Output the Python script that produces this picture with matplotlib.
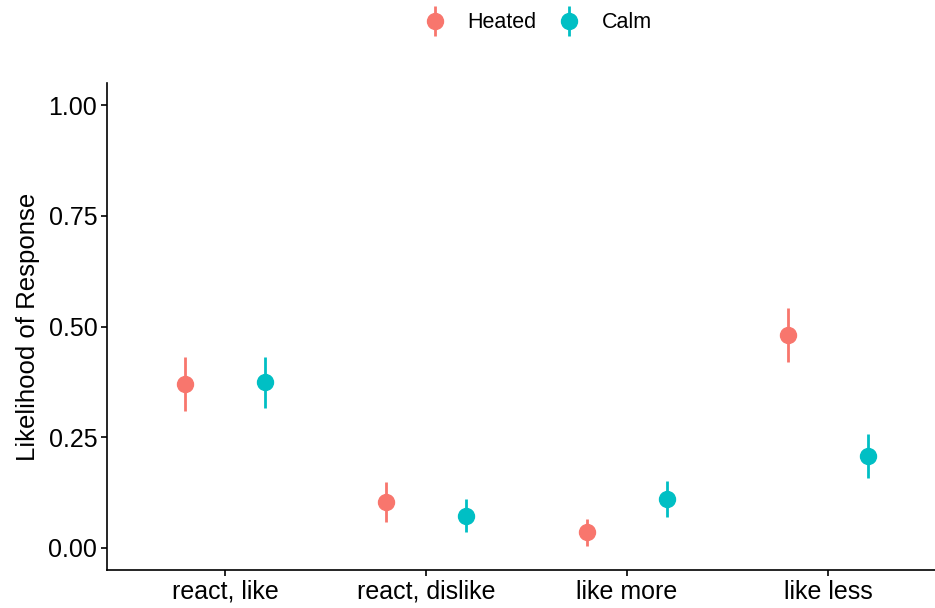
import matplotlib
matplotlib.use("Agg")
import matplotlib.pyplot as plt
from matplotlib.legend_handler import HandlerErrorbar
from matplotlib.container import ErrorbarContainer
import numpy as np

plt.rcParams['font.family'] = ['Liberation Sans', 'DejaVu Sans']

categories = ["react, like", "react, dislike", "like more", "like less"]
groups = ["Heated", "Calm"]
colors = ["#F8766D", "#00BFC4"]

heated_mean = [0.370, 0.104, 0.036, 0.481]
heated_low = [0.309, 0.059, 0.005, 0.420]
heated_high = [0.431, 0.149, 0.065, 0.542]

calm_mean = [0.375, 0.072, 0.111, 0.208]
calm_low = [0.316, 0.036, 0.070, 0.158]
calm_high = [0.431, 0.111, 0.151, 0.257]

means = [heated_mean, calm_mean]
lows = [heated_low, calm_low]
highs = [heated_high, calm_high]

fig = plt.figure(figsize=(9.35, 6.08), dpi=100)
ax = fig.add_axes([107 / 935, 1 - 570 / 608, 1 - 107 / 935, (570 - 83) / 608])

x = np.arange(1, len(categories) + 1)
offsets = [-0.2, 0.2]
for g in range(len(groups)):
    m = np.array(means[g])
    lo = m - np.array(lows[g])
    hi = np.array(highs[g]) - m
    ax.errorbar(x + offsets[g], m, yerr=[lo, hi], fmt='o', color=colors[g],
                markersize=11.5, elinewidth=2, capsize=0, label=groups[g])

ax.set_xlim(0.413, 4.532)
ax.set_ylim(-0.05, 1.05)
ax.set_xticks(x)
ax.set_xticklabels(categories)
ax.set_yticks([0, 0.25, 0.5, 0.75, 1.0])
ax.set_yticklabels(["0.00", "0.25", "0.50", "0.75", "1.00"])
ax.tick_params(labelsize=18, length=4, width=1.2, color='black', labelcolor='black', pad=3)
ax.set_ylabel("Likelihood of Response", fontsize=18.5, labelpad=6)
for s in ["top", "right"]:
    ax.spines[s].set_visible(False)
for s in ["left", "bottom"]:
    ax.spines[s].set_linewidth(1.2)

fig.legend(loc='center', bbox_to_anchor=(537 / 935, 1 - 23 / 608), ncol=2, frameon=False,
           fontsize=15.5, handletextpad=0.9, columnspacing=0.9, handlelength=1.2,
           handler_map={ErrorbarContainer: HandlerErrorbar(yerr_size=0.7)})

fig.savefig("out.png", dpi=100)
